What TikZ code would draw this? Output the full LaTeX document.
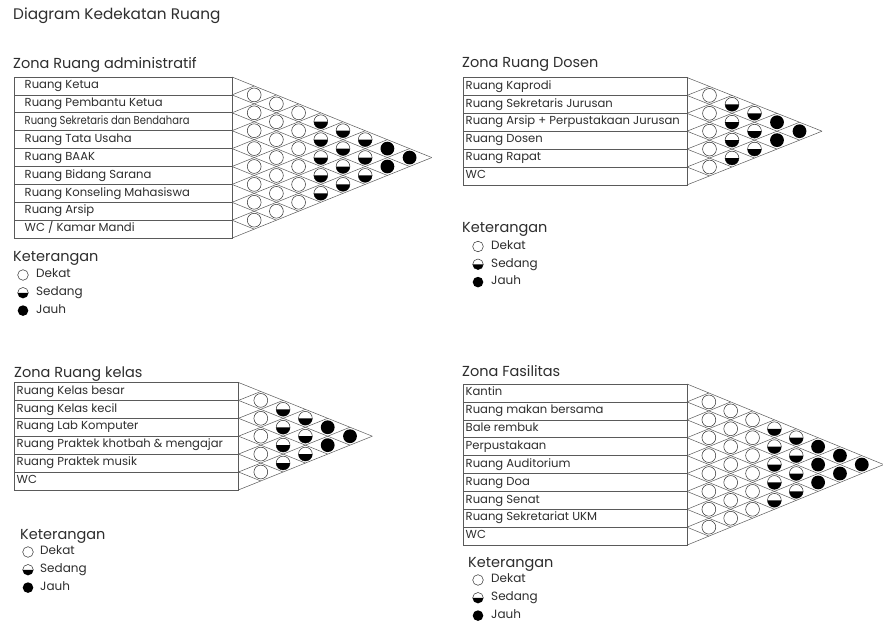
\documentclass[tikz,border=0pt]{standalone}
\usepackage{fontspec}
\setmainfont{Poppins}
\usetikzlibrary{calc}
\definecolor{ink}{HTML}{2E2E2E}
\definecolor{gridc}{HTML}{5A5A5A}
\tikzset{
  tbl/.style={draw=gridc, line width=0.6pt},
  lat/.style={draw=gridc, line width=0.5pt},
  lbl/.style={font=\fontsize{11.6}{13}\selectfont, text=ink, inner sep=0pt, anchor=mid west},
  ttl/.style={font=\fontsize{14.5}{16}\selectfont, text=ink, inner sep=0pt, anchor=base west},
  bigttl/.style={ttl, font=\fontsize{15.3}{17}\selectfont},
  lg/.style={font=\fontsize{12}{13}\selectfont, text=ink, inner sep=0pt, anchor=mid west},
  cir/.style={draw=ink, line width=0.5pt, fill=white},
  dot/.style={fill=black},
}
\def\rowh{17.9}
\def\inset{2.5}
\def\crad{6.9pt}
\def\lrad{5.3pt}

% #1 prefix, #2 left, #3 top, #4 right, #5 step, #6 rows, #7 max d empty, #8 max d half, #9 labels
\newcommand\drawchart[9]{%
  \pgfmathsetmacro\chBot{#3+#6*\rowh}
  \draw[tbl] (#2,#3) rectangle (#4,\chBot);
  \foreach \lab [count=\k from 0] in {#9} {
    \node[lbl] (#1-r\k) at ({#2+\inset},{#3+(\k+0.5)*\rowh}) {\lab};
    \ifnum\k>0 \draw[tbl] (#2,{#3+\k*\rowh}) -- (#4,{#3+\k*\rowh}); \fi
  }
  \foreach \k in {0,...,#6} {
    \pgfmathsetmacro\chYk{#3+\k*\rowh}
    \draw[lat] (#4,\chYk) -- ++({(#6-\k)*#5},{(#6-\k)*\rowh/2});
    \draw[lat] (#4,\chYk) -- ++({\k*#5},{-\k*\rowh/2});
  }
  \pgfmathtruncatemacro\chNm{#6-1}
  \foreach \dd in {1,...,\chNm} {
    \pgfmathtruncatemacro\chImax{#6-1-\dd}
    \foreach \ii in {0,...,\chImax} {
      \pgfmathsetmacro\chCx{#4+\dd*#5}
      \pgfmathsetmacro\chCy{#3+(\ii+\dd/2+0.5)*\rowh}
      \ifnum\dd>#8\relax
        \fill[dot] (\chCx,\chCy) circle[radius=\crad];
      \else\ifnum\dd>#7\relax
        \draw[cir] (\chCx,\chCy) circle[radius=\crad];
        \fill[dot] (\chCx,\chCy) ++(-\crad,0pt) arc[start angle=180,end angle=360,radius=\crad] -- cycle;
      \else
        \draw[cir] (\chCx,\chCy) circle[radius=\crad];
      \fi\fi
    }
  }
}

% #1 prefix, #2 x of title, #3 baseline of title, #4 x of circles, #5 y of first item, #6 x of texts
\newcommand\legendbox[6]{%
  \node[ttl] (#1-ket) at (#2,#3) {Keterangan};
  \draw[cir] (#4,#5) circle[radius=\lrad];
  \node[lg] (#1-dekat) at (#6,#5) {Dekat};
  \draw[cir] (#4,{#5+17.8}) circle[radius=\lrad];
  \fill[dot] (#4,{#5+17.8}) ++(-\lrad,0pt) arc[start angle=180,end angle=360,radius=\lrad] -- cycle;
  \node[lg] (#1-sedang) at (#6,{#5+17.8}) {Sedang};
  \fill[dot] (#4,{#5+35.6}) circle[radius=\lrad];
  \node[lg] (#1-jauh) at (#6,{#5+35.6}) {Jauh};
}

\begin{document}
\begin{tikzpicture}[x=1pt,y=-1pt]
\useasboundingbox[fill=white] (0,0) rectangle (883,623);

\node[bigttl] (title) at (13,20) {Diagram Kedekatan Ruang};

% Zona Ruang administratif
\node[ttl] (adm-t) at (13,68.5) {Zona Ruang administratif};
\def\inset{10.5}
\drawchart{adm}{14}{77}{232}{22.2}{9}{3}{6}{Ruang Ketua,Ruang Pembantu Ketua,\scalebox{0.86}[1]{Ruang Sekretaris dan Bendahara},Ruang Tata Usaha,Ruang BAAK,Ruang Bidang Sarana,Ruang Konseling Mahasiswa,Ruang Arsip,WC / Kamar Mandi}
\legendbox{admL}{13}{261.5}{23}{275}{36}

% Zona Ruang Dosen
\def\inset{2.5}
\node[ttl] (dos-t) at (462,67.5) {Zona Ruang Dosen};
\drawchart{dos}{463}{77.5}{687}{22.5}{6}{1}{3}{Ruang Kaprodi,Ruang Sekretaris Jurusan,Ruang Arsip + Perpustakaan Jurusan,Ruang Dosen,Ruang Rapat,WC}
\legendbox{dosL}{462}{232.5}{478}{246.5}{491}

% Zona Ruang kelas
\node[ttl] (kls-t) at (14,377) {Zona Ruang kelas};
\drawchart{kls}{14}{382.5}{238.5}{22.3}{6}{1}{3}{Ruang Kelas besar,Ruang Kelas kecil,Ruang Lab Komputer,Ruang Praktek khotbah \& mengajar,Ruang Praktek musik,WC}
\legendbox{klsL}{20}{539}{28}{552}{40}

% Zona Fasilitas
\node[ttl] (fas-t) at (462,376.5) {Zona Fasilitas};
\drawchart{fas}{463}{384}{687}{21.85}{9}{3}{5}{Kantin,Ruang makan bersama,Bale rembuk,Perpustakaan,Ruang Auditorium,Ruang Doa,Ruang Senat,Ruang Sekretariat UKM,WC}
\legendbox{fasL}{468}{567}{478}{580}{491}
\end{tikzpicture}
\end{document}
